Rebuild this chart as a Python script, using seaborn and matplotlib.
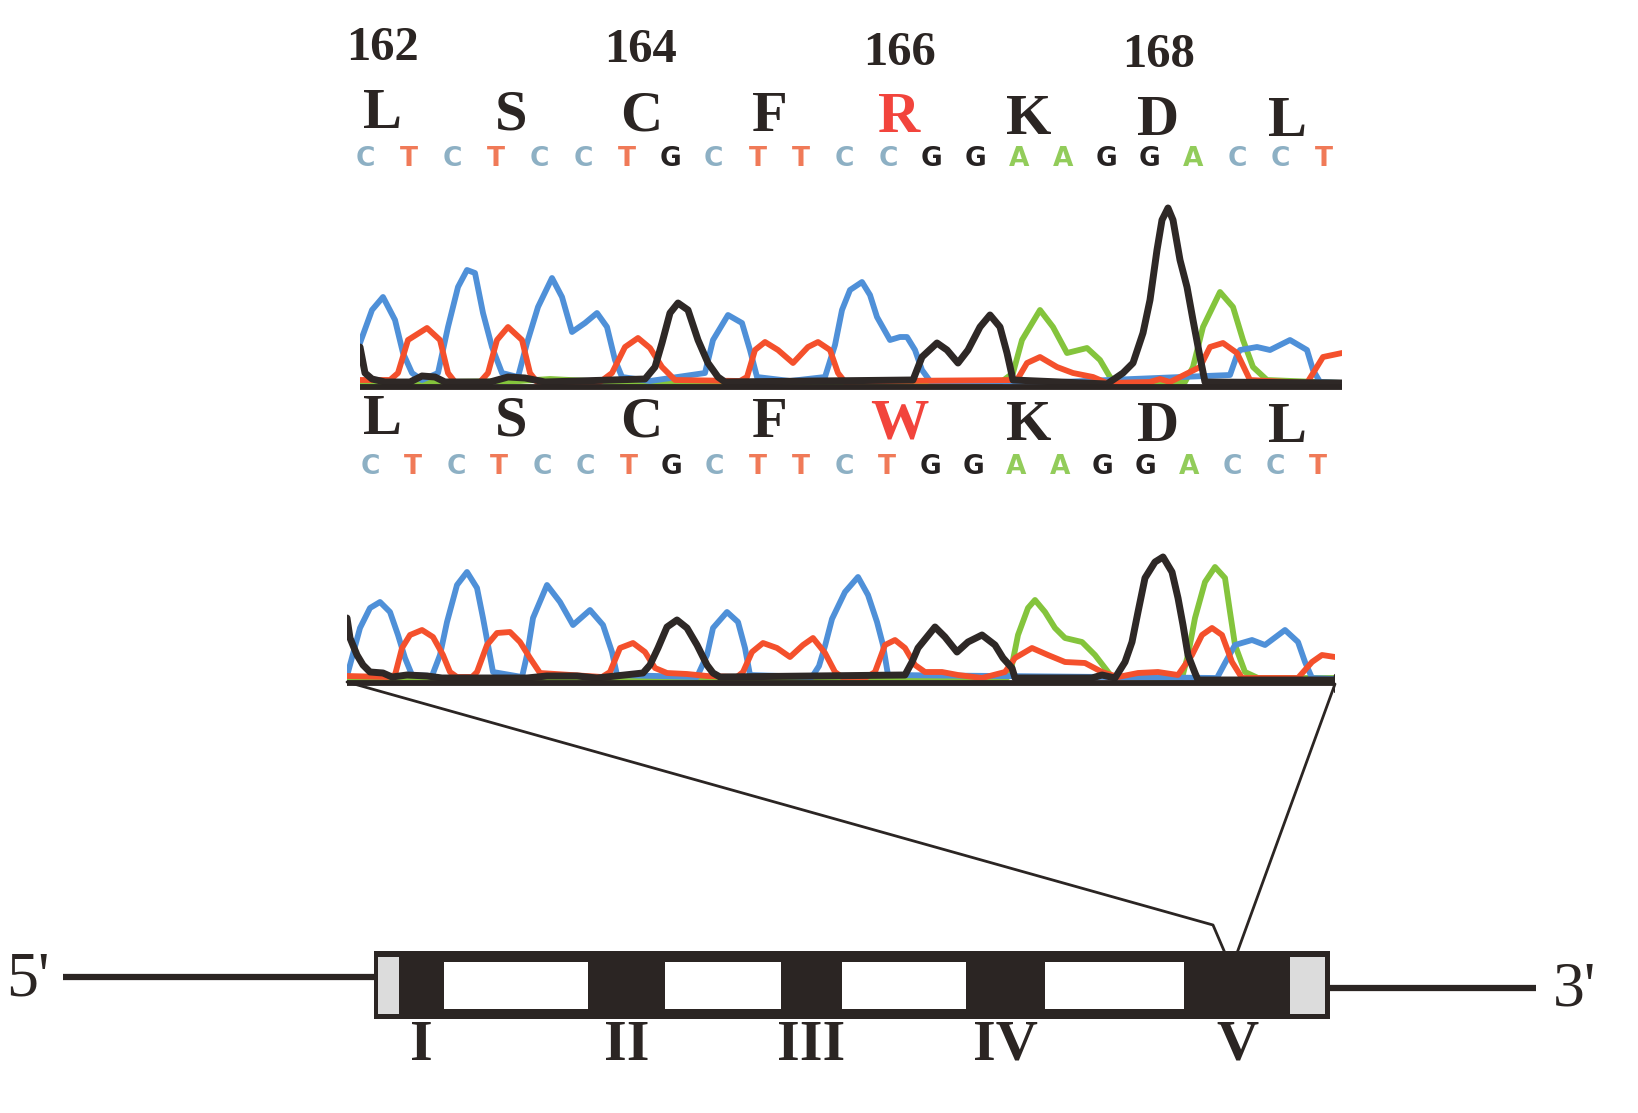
import numpy as np
import pandas as pd
import matplotlib
matplotlib.use("Agg")
import matplotlib.pyplot as plt
import seaborn as sns
from matplotlib.patches import Rectangle

# ---------------- data ----------------
codon_numbers = ["162", "164", "166", "168"]
aa_wild = ["L", "S", "C", "F", "R", "K", "D", "L"]
aa_mut = ["L", "S", "C", "F", "W", "K", "D", "L"]
mut_index = 4
bases_wild = list("CTCTCCTGCTTCCGGAAGGACCT")
bases_mut = list("CTCTCCTGCTTCTGGAAGGACCT")
exon_labels = ["I", "II", "III", "IV", "V"]

# chromatogram traces (scan position, signal)
wt_C_x = [0, 12, 23, 35, 43, 52, 62, 78, 88, 98, 107, 115, 123, 132, 142, 158, 167, 178, 192, 202, 212, 225, 237, 247, 255, 262, 290, 345, 353, 368, 382, 390, 397, 430, 465, 475, 482, 490, 502, 510, 517, 530, 540, 547, 555, 562, 570, 700, 870, 877, 880, 897, 910, 930, 947, 953, 960, 982]
wt_C_y = [42, 75, 88, 65, 32, 12, 5, 12, 58, 98, 115, 112, 72, 38, 12, 8, 42, 78, 107, 88, 53, 62, 72, 58, 25, 8, 4, 12, 45, 70, 62, 35, 8, 4, 8, 40, 75, 95, 103, 90, 68, 45, 48, 48, 35, 15, 4, 3, 10, 30, 35, 38, 35, 45, 35, 15, 3, 2]
wt_T_x = [0, 30, 38, 48, 67, 80, 88, 95, 120, 128, 137, 148, 162, 170, 177, 240, 252, 265, 278, 290, 302, 315, 380, 387, 395, 405, 418, 433, 448, 458, 470, 478, 485, 530, 657, 667, 680, 697, 713, 733, 747, 790, 800, 810, 840, 850, 863, 877, 890, 947, 963, 982]
wt_T_y = [5, 5, 12, 45, 57, 45, 12, 3, 3, 12, 45, 58, 45, 12, 3, 3, 12, 38, 47, 37, 18, 5, 4, 8, 35, 43, 35, 22, 38, 43, 35, 12, 3, 4, 5, 22, 28, 18, 12, 8, 2, 3, 6, 3, 18, 38, 42, 32, 5, 2, 28, 32]
wt_G_x = [0, 5, 12, 25, 50, 62, 75, 85, 130, 148, 165, 185, 285, 295, 302, 310, 318, 328, 338, 348, 358, 365, 553, 562, 577, 587, 598, 608, 620, 630, 640, 647, 653, 747, 763, 773, 783, 790, 797, 802, 808, 813, 820, 827, 833, 840, 845, 982]
wt_G_y = [38, 12, 6, 3, 3, 9, 8, 3, 3, 8, 7, 3, 6, 18, 42, 72, 82, 75, 45, 22, 8, 3, 5, 28, 42, 35, 22, 35, 58, 70, 58, 32, 5, 1, 12, 22, 52, 85, 135, 165, 177, 165, 125, 98, 65, 28, 3, 2]
wt_A_x = [0, 160, 190, 230, 300, 640, 653, 662, 680, 693, 707, 727, 740, 750, 757, 825, 833, 843, 860, 873, 883, 893, 907, 982]
wt_A_y = [2, 4, 6, 4, 2, 2, 12, 45, 75, 58, 32, 37, 25, 8, 2, 3, 18, 58, 93, 78, 45, 18, 5, 2]

mt_C_x = [0, 3, 13, 23, 33, 43, 51, 58, 65, 85, 93, 100, 110, 120, 130, 136, 141, 146, 175, 180, 186, 200, 213, 226, 243, 256, 265, 270, 350, 360, 366, 380, 391, 398, 403, 465, 472, 478, 485, 498, 511, 521, 530, 536, 541, 870, 878, 888, 905, 918, 938, 951, 958, 965, 988]
mt_C_y = [5, 16, 53, 73, 79, 69, 46, 23, 6, 5, 26, 59, 96, 109, 93, 63, 36, 9, 4, 26, 63, 96, 79, 56, 71, 56, 29, 6, 4, 26, 53, 69, 59, 33, 6, 4, 15, 35, 62, 89, 104, 86, 59, 36, 6, 3, 18, 36, 41, 36, 51, 39, 19, 3, 2]
mt_T_x = [0, 40, 48, 55, 63, 75, 86, 96, 103, 110, 125, 130, 140, 150, 163, 173, 183, 193, 255, 263, 273, 286, 298, 308, 320, 340, 360, 390, 396, 405, 416, 430, 443, 456, 466, 478, 488, 495, 520, 528, 538, 548, 558, 568, 578, 595, 611, 635, 658, 668, 685, 701, 718, 738, 755, 771, 791, 811, 831, 845, 855, 865, 875, 885, 895, 951, 965, 975, 988]
mt_T_y = [5, 4, 6, 33, 46, 51, 44, 26, 9, 4, 4, 9, 36, 48, 49, 39, 23, 8, 4, 9, 33, 38, 29, 13, 8, 7, 5, 4, 9, 29, 38, 33, 24, 36, 43, 28, 9, 4, 4, 9, 36, 41, 33, 16, 9, 9, 6, 3, 9, 23, 33, 26, 19, 18, 9, 4, 8, 9, 6, 26, 46, 53, 46, 19, 3, 3, 19, 26, 24]
mt_G_x = [0, 3, 10, 16, 23, 36, 45, 60, 80, 95, 180, 200, 230, 250, 296, 303, 311, 320, 330, 340, 350, 360, 366, 373, 558, 565, 571, 588, 598, 610, 621, 635, 648, 656, 665, 668, 745, 755, 768, 778, 785, 791, 798, 808, 816, 825, 831, 836, 841, 848, 851, 988]
mt_G_y = [63, 43, 26, 16, 9, 8, 4, 6, 5, 3, 3, 5, 5, 3, 8, 16, 33, 54, 61, 53, 36, 16, 8, 4, 6, 19, 33, 54, 44, 29, 39, 46, 36, 23, 13, 3, 3, 6, 3, 19, 39, 69, 103, 119, 124, 109, 83, 56, 26, 8, 1, 1]
mt_A_x = [0, 660, 665, 671, 681, 688, 698, 708, 718, 735, 748, 758, 765, 835, 841, 848, 858, 868, 878, 883, 888, 898, 911, 988]
mt_A_y = [3, 3, 16, 46, 73, 81, 69, 53, 43, 39, 26, 13, 4, 3, 26, 63, 99, 114, 103, 69, 36, 9, 3, 3]

# gene structure (diagram units)
gene_span = (374, 1330)
exon_starts = [399, 588, 781, 966, 1184]
exon_ends = [444, 665, 842, 1045, 1290]
utr_spans = [(378, 399), (1290, 1325)]

# ---------------- style ----------------
W, H = 1638, 1113
sns.set_theme(style="white")
plt.rcParams["font.family"] = ["Liberation Serif", "DejaVu Serif"]

DARK = "#2b2523"
RED_TXT = "#f2443c"
trace_col = {"C": "#4f90d8", "T": "#f4502c", "G": "#2e2826", "A": "#84c43c"}
base_txt_col = {"C": "#8db0c4", "T": "#f07a58", "G": "#262222", "A": "#92cc5a"}

fig = plt.figure(figsize=(W / 100, H / 100), dpi=100)
fig.patch.set_facecolor("white")
ax_bg = fig.add_axes([0, 0, 1, 1])
ax_bg.set_xlim(0, W)
ax_bg.set_ylim(H, 0)
ax_bg.axis("off")


def chrom_axes(x0, x1, base, ymin, ymax):
    ax = fig.add_axes([x0 / W, (H - (base - ymin)) / H, (x1 - x0) / W, (ymax - ymin) / H])
    ax.set_xlim(0, x1 - x0)
    ax.set_ylim(ymin, ymax)
    ax.axis("off")
    ax.patch.set_alpha(0)
    return ax


def draw_traces(ax, traces, width):
    for base in ["A", "C", "T", "G"]:
        xs, ys = traces[base]
        df = pd.DataFrame({"x": xs, "y": ys})
        lw = 5.0 if base == "G" else 4.2
        sns.lineplot(data=df, x="x", y="y", ax=ax, sort=False, estimator=None,
                     color=trace_col[base], linewidth=lw, legend=False,
                     solid_joinstyle="round", solid_capstyle="round")
    ax.plot([0, width], [-1.5, -1.5], color=DARK, lw=4.2, solid_capstyle="butt", zorder=5)
    ax.set_xlabel("")
    ax.set_ylabel("")


# chromatogram 1 (wild type)
ax1 = chrom_axes(360, 1342, 385, -8, 200)
draw_traces(ax1, {"C": (wt_C_x, wt_C_y), "T": (wt_T_x, wt_T_y),
                  "G": (wt_G_x, wt_G_y), "A": (wt_A_x, wt_A_y)}, 982)
# chromatogram 2 (mutant)
ax2 = chrom_axes(347, 1335, 681, -12, 140)
draw_traces(ax2, {"C": (mt_C_x, mt_C_y), "T": (mt_T_x, mt_T_y),
                  "G": (mt_G_x, mt_G_y), "A": (mt_A_x, mt_A_y)}, 988)
ax2.plot([988, 988], [-10, 6], color=DARK, lw=2.5)

# codon numbers and amino acids
aa_x0, aa_step = 382, 129.4
for i, num in enumerate(codon_numbers):
    x = aa_x0 + 2 * i * aa_step
    ax_bg.text(x, 48 + i * 2.4, num, ha="center", va="center", fontsize=35,
               fontweight="bold", color=DARK)

for row, (aas, y0) in enumerate([(aa_wild, 114), (aa_mut, 420)]):
    for i, aa in enumerate(aas):
        x = aa_x0 + i * aa_step
        col = RED_TXT if i == mut_index else DARK
        ax_bg.text(x, y0 + i * 1.1, aa, ha="center", va="center", fontsize=42,
                   fontweight="bold", color=col)

# base calls
clip = Rectangle((366, 0), W, H, transform=ax_bg.transData)
for seq, x0, step, y in [(bases_wild, 365, 43.6, 159), (bases_mut, 370, 43.1, 467)]:
    for i, b in enumerate(seq):
        t = ax_bg.text(x0 + i * step, y, b, ha="center", va="center", fontsize=19,
                       fontweight="bold", color=base_txt_col[b],
                       family=["DejaVu Sans"])
        t.set_clip_path(clip)

# zoom lines
ax_bg.plot([347, 1213, 1225], [682, 925, 953], color=DARK, lw=2.0)
ax_bg.plot([1335, 1237], [684, 953], color=DARK, lw=2.0)

# gene diagram
g0, g1 = gene_span
top, bot = 951, 1019
ax_bg.plot([63, g0], [977, 977], color=DARK, lw=4.5, solid_capstyle="butt")
ax_bg.plot([g1, 1536], [988, 988], color=DARK, lw=4.5, solid_capstyle="butt")
ax_bg.add_patch(Rectangle((g0, top), g1 - g0, bot - top, facecolor=DARK, edgecolor="none"))
for e_end, e_next in zip(exon_ends[:-1], exon_starts[1:]):
    ax_bg.add_patch(Rectangle((e_end, 962), e_next - e_end, 47, facecolor="white", edgecolor="none"))
for a, b in utr_spans:
    ax_bg.add_patch(Rectangle((a, 957), b - a, 57, facecolor="#dcdcdc", edgecolor="none"))
for lab, a, b in zip(exon_labels, exon_starts, exon_ends):
    ax_bg.text((a + b) / 2, 1046, lab, ha="center", va="center", fontsize=42,
               fontweight="bold", color=DARK)
ax_bg.text(28, 980, "5'", ha="center", va="center", fontsize=46, color=DARK)
ax_bg.text(1574, 990, "3'", ha="center", va="center", fontsize=46, color=DARK)

fig.savefig("out.png", dpi=100, facecolor="white")
